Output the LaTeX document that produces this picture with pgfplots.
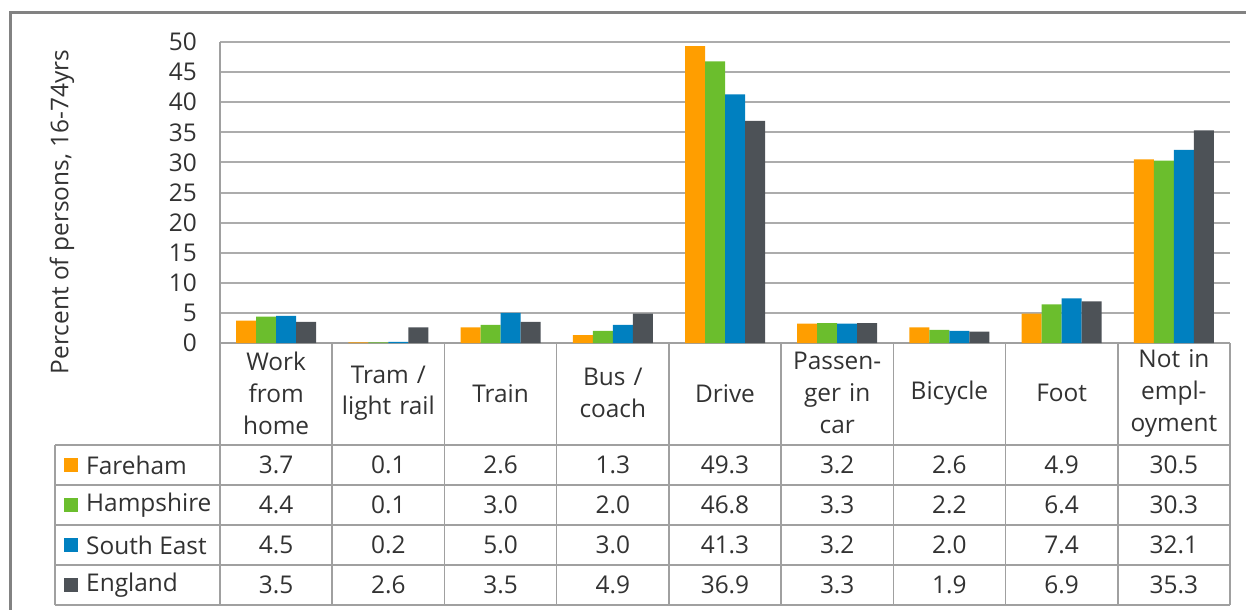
\documentclass[border=0pt]{standalone}
\usepackage{pgfplots}
\pgfplotsset{compat=1.18}
\usepackage{pgfplotstable}
\usepackage{fontspec}
\setmainfont{Open Sans}

\definecolor{cFar}{RGB}{255,158,0}
\definecolor{cHam}{RGB}{107,190,45}
\definecolor{cSE}{RGB}{0,128,192}
\definecolor{cEng}{RGB}{77,82,87}
\definecolor{gridc}{RGB}{172,172,172}
\definecolor{tabc}{RGB}{160,160,160}
\definecolor{framec}{RGB}{130,130,130}
\definecolor{textc}{RGB}{50,50,50}

% method of travel to work, percent of persons 16-74
\pgfplotstableread{
cat Fareham Hampshire SouthEast England
0 3.7 4.4 4.5 3.5
1 0.1 0.1 0.2 2.6
2 2.6 3.0 5.0 3.5
3 1.3 2.0 3.0 4.9
4 49.3 46.8 41.3 36.9
5 3.2 3.3 3.2 3.3
6 2.6 2.2 2.0 1.9
7 4.9 6.4 7.4 6.9
8 30.5 30.3 32.1 35.3
}\data

\pgfkeys{/pgf/number format/assume math mode=true}
\pgfplotsset{
  tablerow/.style={draw=none, mark=none,
    nodes near coords={\pgfmathprintnumber[fixed,fixed zerofill,precision=1,assume math mode=true]{\pgfplotspointmeta}},
    point meta=explicit,
    every node near coord/.append style={anchor=center, text=textc, inner sep=0pt}},
}

\begin{document}
\fontsize{24.5}{30}\selectfont
\begin{tikzpicture}[x=1bp,y=1bp]
\useasboundingbox (0,0) rectangle (1246,-610);

% outer chart frame
\draw[framec, line width=3bp] (10,-640) -- (10,-13) -- (1280,-13);

\begin{axis}[
    at={(220bp,-343bp)}, anchor=south west,
    scale only axis, width=1010bp, height=301bp,
    xmin=0, xmax=9, ymin=0, ymax=50,
    ytick={0,5,...,50},
    xtick={0.5,1.5,...,8.5},
    xticklabels={{Work\\from\\home},{Tram /\\light rail},Train,{Bus /\\coach},Drive,
                 {Passen-\\ger in\\car},Bicycle,Foot,{Not in\\empl-\\oyment}},
    ybar=0pt, bar width=20bp,
    ymajorgrids, grid style={line width=2bp, gridc},
    axis x line*=bottom, axis y line*=left,
    axis line style={line width=1.5bp, tabc, -},
    tick style={draw=none},
    /pgf/number format/assume math mode=true,
    yticklabel style={inner sep=0pt, anchor=east, xshift=-23bp, text=textc},
    xticklabel style={anchor=center, yshift=-46bp, text width=110bp, align=center,
                      inner sep=0pt, text=textc, font=\fontsize{24.5}{32}\selectfont},
    clip=false,
]
\addplot[fill=cFar, draw=none] table[x expr=\coordindex+0.5, y=Fareham]{\data};
\addplot[fill=cHam, draw=none] table[x expr=\coordindex+0.5, y=Hampshire]{\data};
\addplot[fill=cSE, draw=none] table[x expr=\coordindex+0.5, y=SouthEast]{\data};
\addplot[fill=cEng, draw=none] table[x expr=\coordindex+0.5, y=England]{\data};
\end{axis}

% data table values
\begin{axis}[
    at={(220bp,-605bp)}, anchor=south west,
    scale only axis, width=1010bp, height=160bp,
    xmin=0, xmax=9, ymin=0, ymax=4,
    hide axis, clip=false,
]
\addplot[tablerow] table[x expr=\coordindex+0.5, y expr=3.5, meta=Fareham]{\data};
\addplot[tablerow] table[x expr=\coordindex+0.5, y expr=2.5, meta=Hampshire]{\data};
\addplot[tablerow] table[x expr=\coordindex+0.5, y expr=1.5, meta=SouthEast]{\data};
\addplot[tablerow] table[x expr=\coordindex+0.5, y expr=0.5, meta=England]{\data};
\end{axis}

% table rules
\begin{scope}[tabc, line width=1.5bp]
\foreach \yy in {445,485,525,565,605} \draw (55,-\yy) -- (1230,-\yy);
\draw (55,-445) -- (55,-605);
\foreach \k in {0,...,9} \draw ({220+\k*112.222},-343) -- ({220+\k*112.222},-605);
\end{scope}

% legend keys in the first column
\foreach \c/\n/\yy in {cFar/Fareham/465, cHam/Hampshire/505, cSE/South East/545, cEng/England/585} {
  \fill[\c] (64,-\yy+7) rectangle (78,-\yy-7);
  \node[anchor=west, inner sep=0pt, text=textc] at (86,-\yy) {\n};
}

\node[rotate=90, text=textc] at (62,-212) {Percent of persons, 16-74yrs};
\end{tikzpicture}
\end{document}
